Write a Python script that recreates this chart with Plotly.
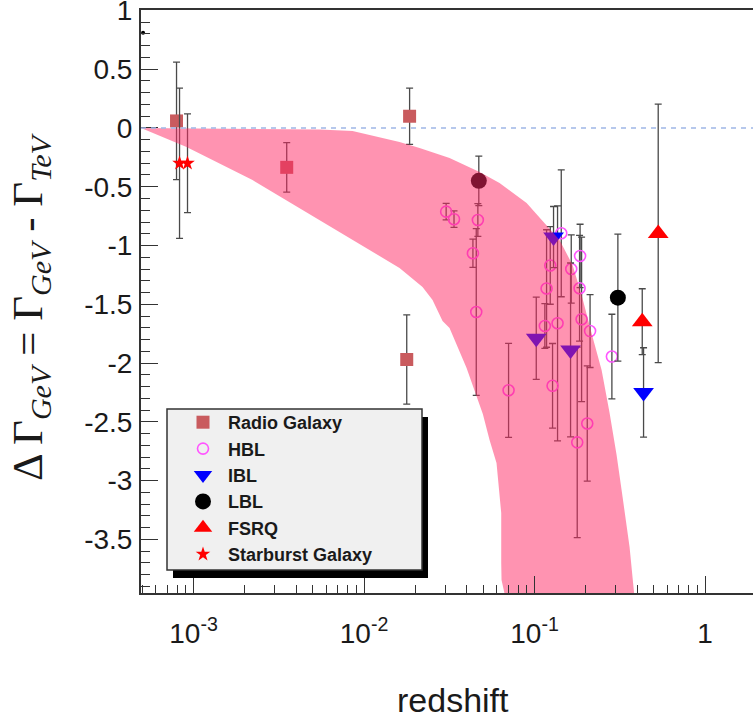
import plotly.graph_objects as go

W, H = 753, 722
PL, PT, PR, PB = 141, 10, 753, 593          # plot area in screen pixels
ML, MT, MR, MB = PL, PT, W - PR, H - PB

# ---------------- data ----------------
rg_z = [7.95e-4, 3.52e-3, 0.0185, 0.0178]
rg_y = [0.06, -0.335, 0.10, -1.97]
rg_err = [0.50, 0.21, 0.24, 0.38]

hbl_z = [0.0303, 0.0337, 0.0465, 0.0435, 0.0455, 0.0704, 0.1434, 0.1236, 0.1176, 0.1149,
         0.1364, 0.1275, 0.1641, 0.1849, 0.1836, 0.1887, 0.2116, 0.2841, 0.2037, 0.1779]
hbl_y = [-0.712, -0.776, -0.783, -1.066, -1.566, -2.232, -0.896, -1.170, -1.366, -1.685,
         -1.662, -2.194, -1.200, -1.089, -1.364, -1.628, -1.728, -1.945, -2.515, -2.675]
hbl_err = [0.07, 0.07, 0.14, 0.12, 0.71, 0.40, 0.54, 0.33, 0.50, 0.19,
           1.00, 0.36, 0.29, 0.27, 0.45, 0.70, 0.31, 0.36, 0.49, 0.81]

ibl_z = [0.4357, 0.1292, 0.1023, 0.1626]
ibl_y = [-2.25, -0.928, -1.79, -1.889]
ibl_err = [0.38, 0.26, 0.35, 0.74]

lbl_z = [0.0471, 0.308]
lbl_y = [-0.45, -1.444]
lbl_err = [0.21, 0.54]

fsrq_z = [0.531, 0.428]
fsrq_y = [-0.897, -1.648]
fsrq_err = [1.10, 0.28]

sb_z = [8.28e-4, 9.22e-4]
sb_y = [-0.30, -0.30]
sb_err = [0.64, 0.42]

extra_z = [5.06e-4]
extra_y = [0.81]

band_z = [4.92e-4, 2.131e-3, 5.48e-3, 8.56e-3, 0.01233, 0.01615, 0.02116, 0.03173, 0.04758,
          0.06231, 0.0898, 0.1176, 0.1401, 0.1671, 0.1887, 0.2189, 0.2472, 0.2754, 0.3027,
          0.3282, 0.3607, 0.3859, 0.3885,
          0.07842, 0.06759, 0.06403,
          0.06376, 0.06376, 0.05984, 0.05447, 0.04974, 0.03993, 0.03173, 0.02887, 0.02522,
          0.02203, 0.01615, 0.01233, 8.56e-3, 5.48e-3, 2.218e-3, 9.1e-4, 4.92e-4]
band_y = [0.0, -0.004, -0.013, -0.026, -0.077, -0.119, -0.170, -0.255, -0.374,
          -0.468, -0.638, -0.834, -0.953, -1.166, -1.421, -1.779, -2.060, -2.426, -2.783,
          -3.140, -3.566, -4.0, -4.04,
          -4.04, -4.0, -3.847,
          -3.702, -3.277, -2.851, -2.655, -2.434, -2.043, -1.702, -1.643, -1.464,
          -1.353, -1.191, -1.089, -0.953, -0.783, -0.443, -0.162, 0.0]

y_tickvals = [-3.5, -3, -2.5, -2, -1.5, -1, -0.5, 0, 0.5, 1]
y_ticktext = ["-3.5", "-3", "-2.5", "-2", "-1.5", "-1", "-0.5", "0", "0.5", "1"]
x_tickvals = [1e-3, 1e-2, 1e-1, 1]
x_ticktext = ["10<sup>-3</sup>", "10<sup>-2</sup>", "10<sup>-1</sup>", "1"]
x_minor = [m * d for d in (1e-4, 1e-3, 1e-2, 1e-1) for m in range(2, 10)]

# ---------------- figure ----------------
ERR = dict(type="data", symmetric=True, color="#4a4a4a", thickness=1.3, width=3.5)

fig = go.Figure()
fig.add_trace(go.Scatter(x=rg_z, y=rg_y, mode="markers", name="Radio Galaxy",
                         error_y=dict(ERR, array=rg_err),
                         marker=dict(symbol="square", size=13, color="#c95b5e")))
fig.add_trace(go.Scatter(x=hbl_z, y=hbl_y, mode="markers", name="HBL",
                         error_y=dict(ERR, array=hbl_err),
                         marker=dict(symbol="circle-open", size=11, color="#ff55ff",
                                     line=dict(width=1.6))))
fig.add_trace(go.Scatter(x=ibl_z, y=ibl_y, mode="markers", name="IBL",
                         error_y=dict(ERR, array=ibl_err),
                         marker=dict(symbol="triangle-down", size=18, color="#0000ff")))
fig.add_trace(go.Scatter(x=lbl_z, y=lbl_y, mode="markers", name="LBL",
                         error_y=dict(ERR, array=lbl_err),
                         marker=dict(symbol="circle", size=16, color="#000000")))
fig.add_trace(go.Scatter(x=fsrq_z, y=fsrq_y, mode="markers", name="FSRQ",
                         error_y=dict(ERR, array=fsrq_err),
                         marker=dict(symbol="triangle-up", size=18, color="#ff0000")))
fig.add_trace(go.Scatter(x=sb_z, y=sb_y, mode="markers", name="Starburst Galaxy",
                         error_y=dict(ERR, array=sb_err),
                         marker=dict(symbol="star", size=11, color="#ff0000")))
fig.add_trace(go.Scatter(x=extra_z, y=extra_y, mode="markers", showlegend=False,
                         marker=dict(symbol="circle", size=4, color="#000000")))
fig.add_trace(go.Scatter(x=band_z, y=band_y, mode="lines", fill="toself",
                         fillcolor="rgba(255,40,100,0.5)", line=dict(width=0),
                         showlegend=False, hoverinfo="skip"))


def px_x(px):
    return (px - PL) / (PR - PL)


def px_y(py):
    return (PB - py) / (PB - PT)


shapes = [
    dict(type="line", xref="paper", yref="y", x0=0, x1=1, y0=0, y1=0,
         line=dict(color="#9fb6e6", width=1.5, dash="5px,5px"), layer="above"),
    dict(type="rect", xref="paper", yref="paper", x0=px_x(173), x1=px_x(428),
         y0=px_y(578), y1=px_y(417), fillcolor="#000000", line=dict(width=0), layer="above"),
    dict(type="rect", xref="paper", yref="paper", x0=px_x(167), x1=px_x(422),
         y0=px_y(570), y1=px_y(409), fillcolor="#f0f0f0",
         line=dict(color="#333333", width=1.5), layer="above"),
]

annotations = [
    dict(text="redshift", xref="paper", yref="paper", x=px_x(453), y=px_y(700),
         xanchor="center", yanchor="middle", showarrow=False,
         font=dict(family="Liberation Sans", size=34, color="#1a1a1a")),
    dict(text="Δ Γ<sub><i>GeV</i></sub> = Γ<sub><i>GeV</i></sub> - Γ<sub><i>TeV</i></sub>",
         xref="paper", yref="paper", x=px_x(31), y=px_y(307), textangle=-90,
         xanchor="center", yanchor="middle", showarrow=False,
         font=dict(family="Liberation Serif", size=43, color="#1a1a1a")),
]

fig.update_layout(
    width=W, height=H, autosize=False,
    margin=dict(l=ML, r=MR, t=MT, b=MB, autoexpand=False),
    paper_bgcolor="white", plot_bgcolor="white",
    font=dict(family="Liberation Sans", color="#1a1a1a"),
    shapes=shapes, annotations=annotations,
    showlegend=True,
    legend=dict(x=px_x(178), y=px_y(404), xanchor="left", yanchor="top",
                bgcolor="rgba(0,0,0,0)", borderwidth=0, itemwidth=40,
                font=dict(family="Liberation Sans", size=18, color="#1a1a1a",
                          weight="bold")),
    xaxis=dict(type="log", range=[-3.308, 0.281], showgrid=False, zeroline=False,
               automargin=False, ticklabeloverflow="allow",
               showline=True, linecolor="#333333", linewidth=2, mirror=True,
               ticks="inside", ticklen=17, tickwidth=1.3, tickcolor="#333333",
               tickmode="array", tickvals=x_tickvals, ticktext=x_ticktext,
               tickfont=dict(size=28, color="#1a1a1a"), ticklabelstandoff=14,
               minor=dict(tickmode="array", tickvals=x_minor, ticks="inside",
                          ticklen=8, tickwidth=1.3, tickcolor="#333333", showgrid=False)),
    yaxis=dict(range=[-3.957, 1.004], showgrid=False, zeroline=False,
               automargin=False, ticklabeloverflow="allow",
               showline=True, linecolor="#333333", linewidth=2, mirror=False,
               ticks="inside", ticklen=17, tickwidth=1.3, tickcolor="#333333",
               tickmode="array", tickvals=y_tickvals, ticktext=y_ticktext,
               tickfont=dict(size=28, color="#1a1a1a"), ticklabelstandoff=1,
               minor=dict(dtick=0.1, tick0=0, ticks="inside", ticklen=9,
                          tickwidth=1.3, tickcolor="#333333", showgrid=False)),
)

fig.write_html("out.html", config={"displayModeBar": False},
               post_script="document.body.style.margin='0';")
